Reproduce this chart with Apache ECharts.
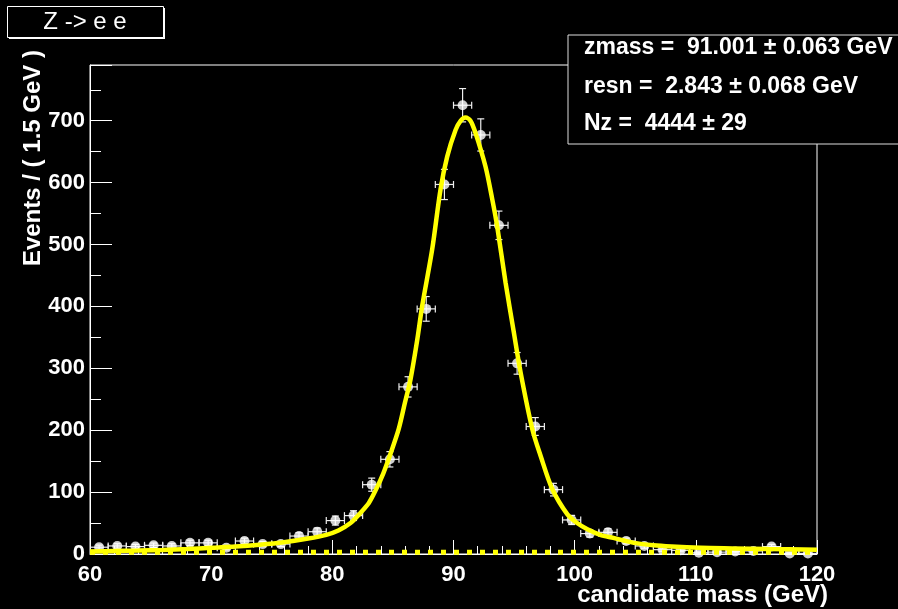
<!DOCTYPE html>
<html>
<head>
<meta charset="utf-8">
<script src="https://cdn.jsdelivr.net/npm/echarts@6/dist/echarts.min.js"></script>
<style>
html,body{margin:0;padding:0;background:#000;}
#c{width:898px;height:609px;}
</style>
</head>
<body>
<div id="c"></div>
<script>
// ---- data ----
const binCenters = [60.75, 62.25, 63.75, 65.25, 66.75, 68.25, 69.75, 71.25, 72.75, 74.25,
  75.75, 77.25, 78.75, 80.25, 81.75, 83.25, 84.75, 86.25, 87.75, 89.25,
  90.75, 92.25, 93.75, 95.25, 96.75, 98.25, 99.75, 101.25, 102.75, 104.25,
  105.75, 107.25, 108.75, 110.25, 111.75, 113.25, 114.75, 116.25, 117.75, 119.25];
const binHalfWidth = 0.75;
const counts = [11, 13, 12, 14, 13, 18, 18, 10, 21, 16,
  16, 29, 36, 54, 62, 112, 153, 270, 396, 597,
  725, 677, 531, 308, 206, 104, 55, 33, 35, 21,
  13, 7, 6, 2, 3, 4, 5, 12, 1, 1];
const countErrors = [3.3, 3.6, 3.5, 3.7, 3.6, 4.2, 4.2, 3.2, 4.6, 4.0,
  4.0, 5.4, 6.0, 7.3, 7.9, 10.6, 12.4, 16.4, 19.9, 24.4,
  26.9, 26.0, 23.0, 17.5, 14.4, 10.2, 7.4, 5.7, 5.9, 4.6,
  3.6, 2.6, 2.4, 1.4, 1.7, 2.0, 2.2, 3.5, 1.0, 1.0];
const fitX = [60, 62, 64, 66, 68, 70, 72, 74, 76, 78, 79.5, 80.5, 81.5, 82.3, 83.0, 83.6, 84.2, 84.8,
  85.48, 86.0, 86.45, 87.0, 87.41, 88.24, 88.93, 89.48, 90.17, 90.6, 90.99, 91.4, 91.82,
  92.64, 93.2, 93.6, 94.3, 94.98, 95.54, 96.5, 97.2, 98.15, 99.4, 100.2, 101.05, 102.1,
  103.2, 104.9, 106.5, 108, 110.4, 113, 116, 120];
const fitY = [4, 5, 5.5, 6.5, 8, 10, 12, 15, 19, 25, 31, 38, 50, 66, 82, 104, 130, 162,
  202, 245, 282, 345, 400, 492, 589, 642, 685, 700, 705, 700, 680,
  626, 573, 530, 438, 358, 293, 202, 158, 105, 64, 50, 40, 31,
  26, 18, 14, 12, 10, 9, 8, 7];
const bkgX = [60, 120];
const bkgY = [3, 3];
const xTicks = [60, 70, 80, 90, 100, 110, 120];
const yTicks = [0, 100, 200, 300, 400, 500, 600, 700];
const titleText = 'Z -> e e';
const xTitle = 'candidate mass (GeV)';
const yTitle = 'Events / ( 1.5 GeV )';
const statsLines = ['zmass =  91.001 \u00b1 0.063 GeV', 'resn =  2.843 \u00b1 0.068 GeV', 'Nz =  4444 \u00b1 29'];

// ---- chart ----
const FONT = '"Liberation Sans", Arial, Helvetica, sans-serif';
const chart = echarts.init(document.getElementById('c'), null, {renderer: 'canvas'});

const pointData = binCenters.map((x, i) => [x, counts[i], countErrors[i]]);
const fitData = fitX.map((x, i) => [x, fitY[i]]);
const bkgData = bkgX.map((x, i) => [x, bkgY[i]]);

function renderErr(params, api) {
  const x = api.value(0), y = api.value(1), e = api.value(2);
  const c = api.coord([x, y]);
  const l = api.coord([x - binHalfWidth, y]);
  const r = api.coord([x + binHalfWidth, y]);
  const t = api.coord([x, y + e]);
  const b = api.coord([x, Math.max(0, y - e)]);
  const style = {stroke: '#eeeeee', lineWidth: 1.2};
  const cap = 3.5;
  return {
    type: 'group',
    children: [
      {type: 'line', shape: {x1: l[0], y1: c[1], x2: r[0], y2: c[1]}, style},
      {type: 'line', shape: {x1: l[0], y1: c[1] - cap, x2: l[0], y2: c[1] + cap}, style},
      {type: 'line', shape: {x1: r[0], y1: c[1] - cap, x2: r[0], y2: c[1] + cap}, style},
      {type: 'line', shape: {x1: c[0], y1: t[1], x2: c[0], y2: b[1]}, style},
      {type: 'line', shape: {x1: c[0] - cap, y1: t[1], x2: c[0] + cap, y2: t[1]}, style},
      {type: 'line', shape: {x1: c[0] - cap, y1: b[1], x2: c[0] + cap, y2: b[1]}, style}
    ]
  };
}

const option = {
  backgroundColor: '#000',
  animation: false,
  grid: {left: 90, right: 81, top: 65, bottom: 55, show: true, borderColor: '#fff', borderWidth: 1, backgroundColor: '#000'},
  xAxis: {
    type: 'value', min: 60, max: 120, interval: 10,
    axisLine: {show: true, onZero: false, lineStyle: {color: '#fff', width: 1}},
    axisTick: {show: true, inside: true, length: 14, lineStyle: {color: '#fff'}},
    minorTick: {show: true, splitNumber: 5, length: 8, lineStyle: {color: '#fff'}},
    splitLine: {show: false},
    axisLabel: {color: '#fff', fontFamily: FONT, fontWeight: 'bold', fontSize: 22, margin: 10,
      formatter: v => xTicks.includes(v) ? String(v) : ''}
  },
  yAxis: {
    type: 'value', min: 0, max: 790, interval: 100,
    axisLine: {show: true, lineStyle: {color: '#fff', width: 1}},
    axisTick: {show: true, inside: true, length: 22, lineStyle: {color: '#fff'}},
    minorTick: {show: true, splitNumber: 2, length: 11, lineStyle: {color: '#fff'}},
    splitLine: {show: false},
    axisLabel: {color: '#fff', fontFamily: FONT, fontWeight: 'bold', fontSize: 22, margin: 5,
      formatter: v => yTicks.includes(v) ? String(v) : ''}
  },
  series: [
    {type: 'custom', renderItem: renderErr, data: pointData, z: 2, clip: true,
      encode: {x: 0, y: 1}},
    {type: 'scatter', data: pointData, symbol: 'circle', symbolSize: 10,
      itemStyle: {color: '#fff'}, z: 3},
    {type: 'line', data: bkgData, showSymbol: false, z: 4,
      lineStyle: {color: '#ffff00', width: 5, type: [5, 8]}},
    {type: 'line', data: fitData, smooth: 0.3, showSymbol: false, z: 5,
      lineStyle: {color: '#ffff00', width: 4.5}}
  ],
  graphic: [
    // title box
    {type: 'rect', left: 9, top: 8, shape: {width: 156, height: 31}, style: {fill: '#fff'}, z: 10},
    {type: 'rect', left: 7, top: 6, shape: {width: 156, height: 31}, style: {fill: '#000', stroke: '#fff', lineWidth: 1}, z: 11},
    {type: 'text', x: 85, y: 22, z: 12,
      style: {text: titleText, fill: '#fff', font: '24px ' + FONT, align: 'center', verticalAlign: 'middle'}},
    // stats box
    {type: 'rect', x: 568, y: 35, shape: {width: 340, height: 109}, style: {fill: '#000', stroke: '#ddd', lineWidth: 1}, z: 10},
    {type: 'text', x: 584, y: 48, z: 12,
      style: {text: statsLines[0], fill: '#fff', font: 'bold 23px ' + FONT, verticalAlign: 'middle'}},
    {type: 'text', x: 584, y: 87, z: 12,
      style: {text: statsLines[1], fill: '#fff', font: 'bold 23px ' + FONT, verticalAlign: 'middle'}},
    {type: 'text', x: 584, y: 124, z: 12,
      style: {text: statsLines[2], fill: '#fff', font: 'bold 23px ' + FONT, verticalAlign: 'middle'}},
    // axis titles
    {type: 'text', x: 828, y: 595, z: 12,
      style: {text: xTitle, fill: '#fff', font: 'bold 24px ' + FONT, align: 'right', verticalAlign: 'middle'}},
    {type: 'text', x: 33, y: 50, rotation: Math.PI / 2, z: 12,
      style: {text: yTitle, fill: '#fff', font: 'bold 24px ' + FONT, align: 'right', verticalAlign: 'middle'}}
  ]
};
chart.setOption(option);
</script>
</body>
</html>
